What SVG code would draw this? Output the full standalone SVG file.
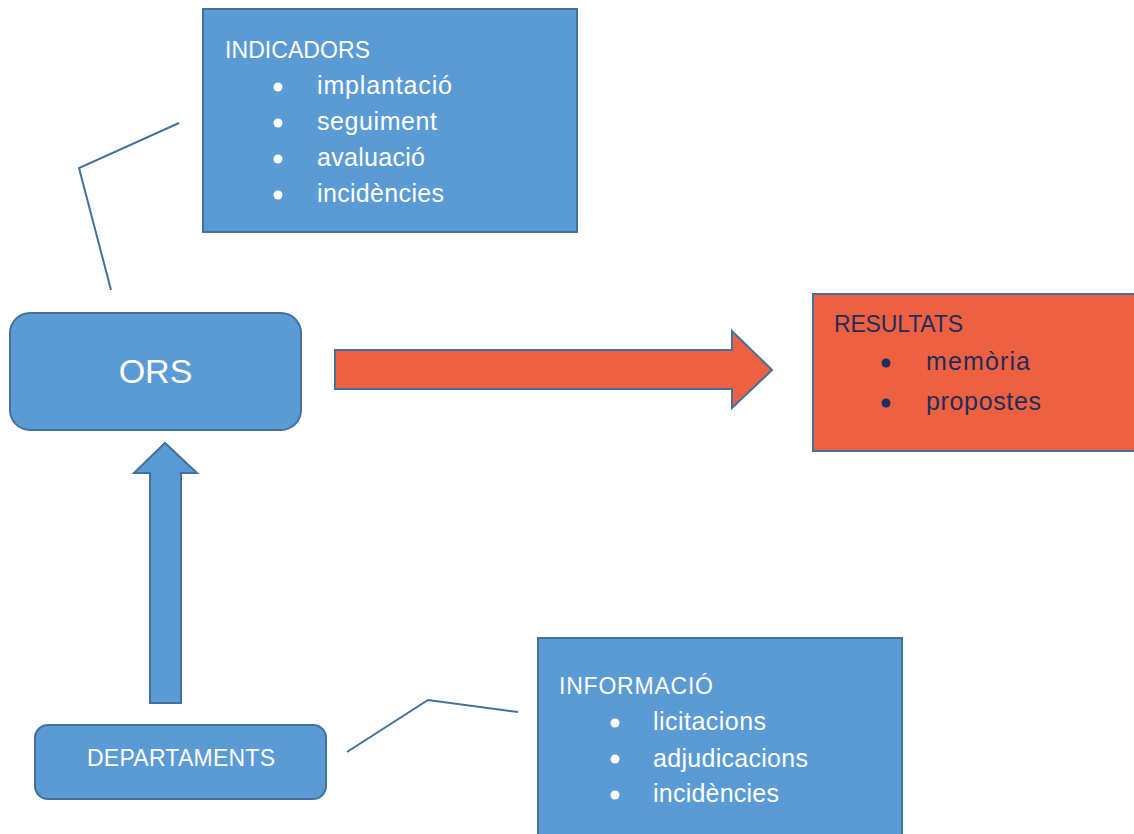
<svg xmlns="http://www.w3.org/2000/svg" width="1134" height="834" viewBox="0 0 1134 834">
<style>
.blue{fill:#5B9BD5;stroke:#41719C;stroke-width:2}
.red{fill:#ED6140;stroke:#41719C;stroke-width:2}
.conn{fill:none;stroke:#41719C;stroke-width:2}
text{font-family:"Liberation Sans",Arial,sans-serif;font-size:23px}
text.it{font-size:25px}
text.big{font-size:34px}
.w{fill:#FFFFFF}
.d{fill:#1F2D5E}
.bw{fill:#FFFFFF}
.bd{fill:#1F2D5E}
</style>
<rect width="1134" height="834" fill="#FFFFFF"/>
<g id="connectors">
<polyline class="conn" points="179,123 79,168 111,290"/>
<polyline class="conn" points="347,752 428,700 518,712"/>
<path id="arrow-right" class="red" d="M335,350 L732,350 L732,331 L772,370 L732,408 L732,389 L335,389 Z"/>
<path id="arrow-up" class="blue" d="M150,703 L150,473 L134,473 L165,443 L197,473 L181,473 L181,703 Z"/>
</g>
<g id="indicadors">
<rect class="blue" x="203" y="9" width="374" height="223"/>
<text class="w" x="225" y="58" textLength="145">INDICADORS</text>
<circle class="bw" cx="278" cy="87" r="4.5"/>
<circle class="bw" cx="278" cy="123" r="4.5"/>
<circle class="bw" cx="278" cy="159" r="4.5"/>
<circle class="bw" cx="278" cy="195" r="4.5"/>
<text class="w it" x="317" y="94" textLength="135">implantació</text>
<text class="w it" x="317" y="130" textLength="120">seguiment</text>
<text class="w it" x="317" y="166" textLength="108">avaluació</text>
<text class="w it" x="317" y="202" textLength="127">incidències</text>
</g>
<g id="ors">
<rect class="blue" x="10" y="313" width="291" height="117" rx="20"/>
<text class="w big" x="155.5" y="383" text-anchor="middle">ORS</text>
</g>
<g id="resultats">
<rect class="red" x="813" y="294" width="330" height="157"/>
<text class="d" x="834" y="332" textLength="129">RESULTATS</text>
<circle class="bd" cx="886" cy="363" r="4.5"/>
<circle class="bd" cx="886" cy="403" r="4.5"/>
<text class="d it" x="926" y="370" textLength="104">memòria</text>
<text class="d it" x="926" y="410" textLength="115">propostes</text>
</g>
<g id="departaments">
<rect class="blue" x="35" y="725" width="291" height="74" rx="13"/>
<text class="w" x="181" y="766" text-anchor="middle" textLength="188">DEPARTAMENTS</text>
</g>
<g id="informacio">
<rect class="blue" x="538" y="638" width="364" height="205"/>
<text class="w" x="559" y="694" textLength="154">INFORMACIÓ</text>
<circle class="bw" cx="615" cy="723" r="4.5"/>
<circle class="bw" cx="615" cy="759" r="4.5"/>
<circle class="bw" cx="615" cy="795" r="4.5"/>
<text class="w it" x="653" y="730" textLength="113">licitacions</text>
<text class="w it" x="653" y="767" textLength="155">adjudicacions</text>
<text class="w it" x="653" y="802" textLength="126">incidències</text>
</g>
</svg>
